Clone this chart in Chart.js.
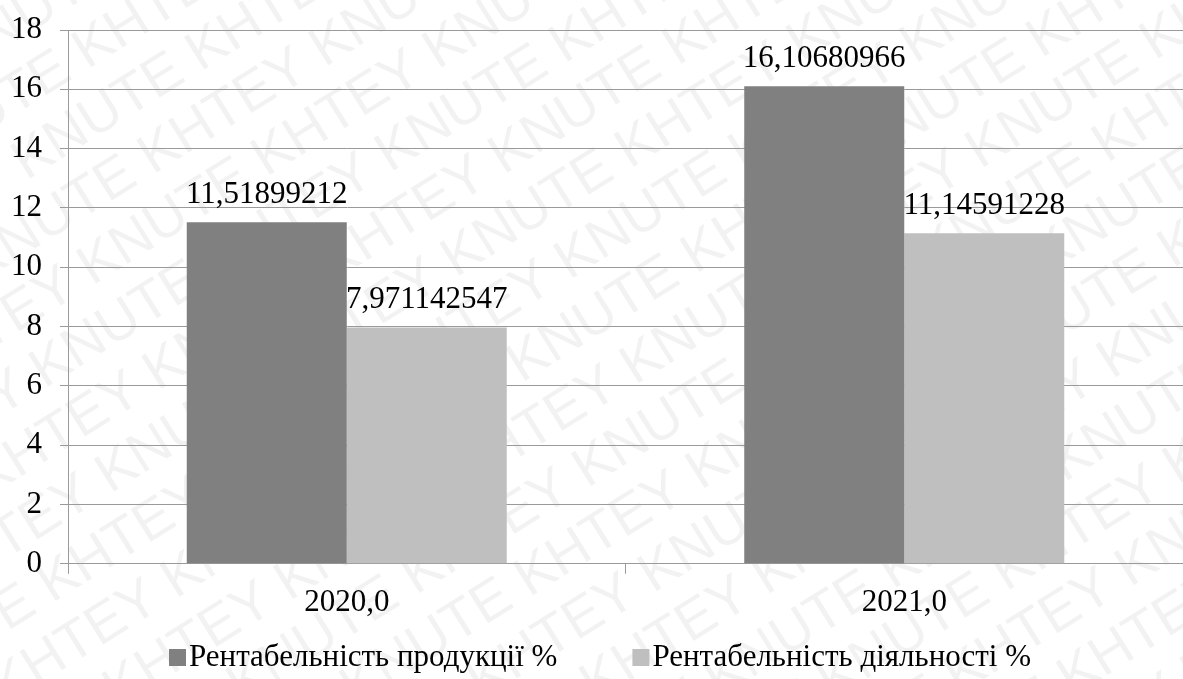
<!DOCTYPE html>
<html>
<head>
<meta charset="utf-8">
<script src="https://cdn.jsdelivr.net/npm/chart.js@4.4.0/dist/chart.umd.min.js"></script>
<style>
  html, body { margin: 0; padding: 0; background: #fff; }
  #wrap { width: 1183px; height: 679px; position: relative; }
</style>
</head>
<body>
<div id="wrap"><canvas id="chart"></canvas></div>
<script>
// Data
const categories = ['2020,0', '2021,0'];
const productProfit = [11.51899212, 16.10680966];
const activityProfit = [7.971142547, 11.14591228];
const seriesNames = ['Рентабельність продукції %', 'Рентабельність діяльності %'];
const yMin = 0;
const yMax = 18;
const yStep = 2;

const FONT = '"Liberation Serif", "Times New Roman", serif';
const FONT_SIZE = 31;
const GRID = '#9a9a9a';

// Faint diagonal watermark behind the chart
const watermark = {
    id: 'watermark',
    beforeDraw(chart) {
        const ctx = chart.ctx;
        ctx.save();
        ctx.fillStyle = '#fff';
        ctx.fillRect(0, 0, chart.width, chart.height);
        ctx.translate(chart.width / 2, chart.height / 2);
        ctx.rotate(-32 * Math.PI / 180);
        ctx.font = '56px "Liberation Sans", Arial, sans-serif';
        ctx.fillStyle = 'rgba(0, 0, 0, 0.05)';
        const row = 'KHTEY KNUTE KHTEY KNUTE KHTEY KNUTE KHTEY KNUTE KHTEY KNUTE KHTEY KNUTE';
        for (let k = -14; k <= 14; k++) {
            ctx.fillText(row, -1100 + (k % 2 === 0 ? 0 : 95), k * 62);
        }
        ctx.restore();
    }
};

// Value labels above each bar
const barLabels = {
    id: 'barLabels',
    afterDatasetsDraw(chart) {
        const ctx = chart.ctx;
        ctx.save();
        ctx.font = FONT_SIZE + 'px ' + FONT;
        ctx.fillStyle = '#000';
        ctx.textAlign = 'center';
        ctx.textBaseline = 'alphabetic';
        chart.data.datasets.forEach((ds, i) => {
            chart.getDatasetMeta(i).data.forEach((bar, j) => {
                ctx.fillText(String(ds.data[j]).replace('.', ','), bar.x, bar.y - 19);
            });
        });
        ctx.restore();
    }
};

// Legend row at the bottom, placed like the original
const legendRow = {
    id: 'legendRow',
    afterDraw(chart) {
        const ctx = chart.ctx;
        ctx.save();
        ctx.font = FONT_SIZE + 'px ' + FONT;
        ctx.textBaseline = 'alphabetic';
        let x = 169;
        const base = 666;
        chart.data.datasets.forEach(ds => {
            ctx.fillStyle = ds.backgroundColor;
            ctx.fillRect(x, base - 17, 17, 17);
            ctx.fillStyle = '#000';
            ctx.fillText(ds.label, x + 20, base);
            x += 20 + ctx.measureText(ds.label).width + 75;
        });
        ctx.restore();
    }
};

const ctx = document.getElementById('chart').getContext('2d');

new Chart(ctx, {
    type: 'bar',
    data: {
        labels: categories,
        datasets: [
            {
                label: seriesNames[0],
                data: productProfit,
                backgroundColor: '#808080',
                barPercentage: 1,
                categoryPercentage: 0.574
            },
            {
                label: seriesNames[1],
                data: activityProfit,
                backgroundColor: '#bfbfbf',
                barPercentage: 1,
                categoryPercentage: 0.574
            }
        ]
    },
    options: {
        responsive: true,
        maintainAspectRatio: false,
        animation: false,
        layout: {
            padding: { top: 0, left: 12, right: 0, bottom: 48 }
        },
        scales: {
            y: {
                min: yMin,
                max: yMax,
                afterFit(scale) {
                    scale.width = 56;
                    scale.paddingTop = 30;
                },
                ticks: {
                    stepSize: yStep,
                    color: '#000',
                    padding: 18,
                    font: { family: FONT, size: FONT_SIZE }
                },
                grid: { color: GRID, tickLength: 8 },
                border: { color: GRID }
            },
            x: {
                ticks: {
                    color: '#000',
                    padding: 10,
                    font: { family: FONT, size: FONT_SIZE }
                },
                grid: { color: GRID, drawOnChartArea: false, tickLength: 10 },
                border: { color: GRID }
            }
        },
        plugins: {
            legend: { display: false },
            tooltip: { enabled: false }
        }
    },
    plugins: [watermark, barLabels, legendRow]
});
</script>
</body>
</html>
